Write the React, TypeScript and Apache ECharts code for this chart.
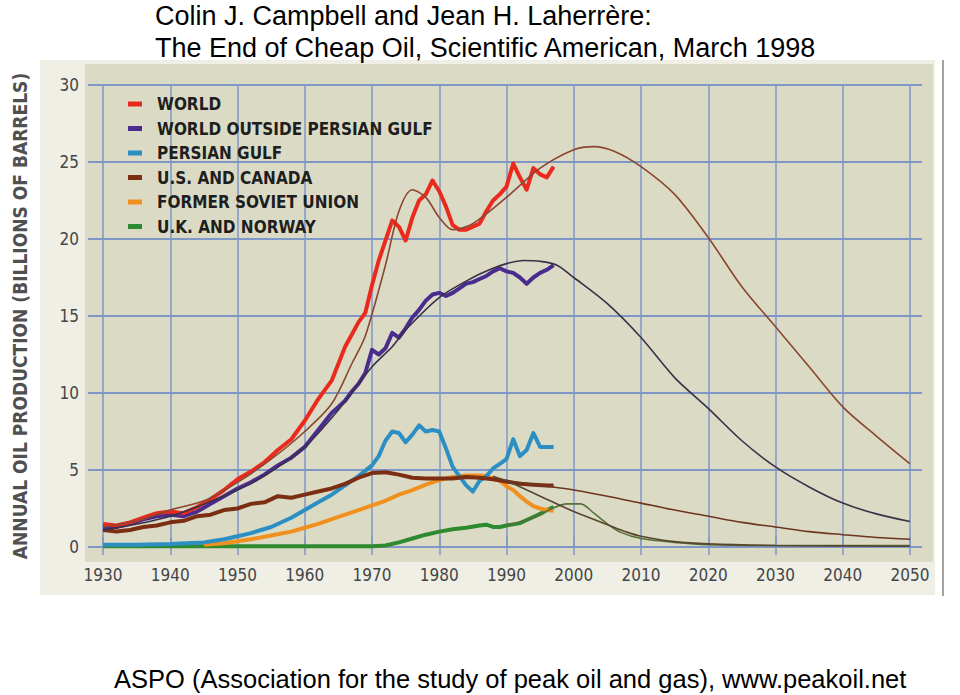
import React, { useEffect, useRef } from "react";
import * as echarts from "echarts";

// ---- Data (billions of barrels per year) ----
const worldYears = [1930, 1932, 1934, 1936, 1938, 1940, 1942, 1944, 1946, 1948, 1950, 1952, 1954, 1956, 1958, 1960, 1962, 1964, 1966, 1967, 1968, 1969, 1970, 1971, 1972, 1973, 1974, 1975, 1976, 1977, 1978, 1979, 1980, 1981, 1982, 1983, 1984, 1985, 1986, 1987, 1988, 1989, 1990, 1991, 1992, 1993, 1994, 1995, 1996, 1997];
const worldValues = [1.5, 1.4, 1.6, 1.9, 2.2, 2.3, 2.2, 2.6, 3.1, 3.7, 4.4, 4.9, 5.5, 6.3, 7.0, 8.2, 9.6, 10.8, 13.0, 13.8, 14.6, 15.2, 17.0, 18.6, 19.9, 21.2, 20.8, 19.9, 21.4, 22.5, 22.9, 23.8, 23.1, 22.1, 20.9, 20.6, 20.6, 20.8, 21.0, 21.8, 22.5, 22.9, 23.4, 24.9, 24.0, 23.2, 24.6, 24.2, 24.0, 24.7];

const outsideYears = [1930, 1932, 1934, 1936, 1938, 1940, 1942, 1944, 1946, 1948, 1950, 1952, 1954, 1956, 1958, 1960, 1962, 1964, 1965, 1966, 1967, 1968, 1969, 1970, 1971, 1972, 1973, 1974, 1975, 1976, 1977, 1978, 1979, 1980, 1981, 1982, 1983, 1984, 1985, 1986, 1987, 1988, 1989, 1990, 1991, 1992, 1993, 1994, 1995, 1996, 1997];
const outsideValues = [1.3, 1.3, 1.5, 1.8, 2.0, 2.1, 2.0, 2.3, 2.8, 3.3, 3.8, 4.2, 4.7, 5.3, 5.8, 6.5, 7.6, 8.7, 9.1, 9.5, 10.1, 10.6, 11.3, 12.8, 12.5, 12.9, 13.9, 13.6, 14.2, 14.9, 15.4, 16.0, 16.4, 16.5, 16.3, 16.5, 16.8, 17.1, 17.2, 17.4, 17.6, 17.9, 18.1, 17.9, 17.8, 17.5, 17.1, 17.5, 17.8, 18.0, 18.3];

const gulfYears = [1930, 1935, 1940, 1945, 1948, 1950, 1952, 1955, 1958, 1960, 1962, 1964, 1966, 1968, 1970, 1971, 1972, 1973, 1974, 1975, 1976, 1977, 1978, 1979, 1980, 1981, 1982, 1983, 1984, 1985, 1986, 1987, 1988, 1989, 1990, 1991, 1992, 1993, 1994, 1995, 1996, 1997];
const gulfValues = [0.15, 0.15, 0.2, 0.3, 0.5, 0.7, 0.9, 1.3, 1.9, 2.4, 2.9, 3.4, 4.0, 4.6, 5.3, 5.9, 6.9, 7.5, 7.4, 6.8, 7.3, 7.9, 7.5, 7.6, 7.5, 6.4, 5.2, 4.6, 4.0, 3.6, 4.3, 4.6, 5.1, 5.4, 5.7, 7.0, 5.9, 6.3, 7.4, 6.5, 6.5, 6.5];

const usYears = [1930, 1932, 1934, 1936, 1938, 1940, 1942, 1944, 1946, 1948, 1950, 1952, 1954, 1956, 1958, 1960, 1962, 1964, 1966, 1968, 1970, 1972, 1974, 1976, 1978, 1980, 1982, 1984, 1986, 1988, 1990, 1992, 1994, 1996, 1997];
const usValues = [1.1, 1.0, 1.1, 1.3, 1.4, 1.6, 1.7, 2.0, 2.1, 2.4, 2.5, 2.8, 2.9, 3.3, 3.2, 3.4, 3.6, 3.8, 4.1, 4.5, 4.8, 4.85, 4.7, 4.5, 4.45, 4.45, 4.45, 4.55, 4.5, 4.4, 4.25, 4.1, 4.05, 4.0, 4.0];

const fsuYears = [1945, 1948, 1950, 1952, 1955, 1958, 1960, 1962, 1965, 1968, 1970, 1972, 1974, 1976, 1978, 1980, 1982, 1984, 1986, 1987, 1988, 1989, 1990, 1991, 1992, 1993, 1994, 1995, 1996, 1997];
const fsuValues = [0.15, 0.25, 0.38, 0.5, 0.75, 1.0, 1.25, 1.5, 1.95, 2.4, 2.7, 3.0, 3.4, 3.7, 4.05, 4.35, 4.55, 4.65, 4.65, 4.6, 4.45, 4.3, 3.95, 3.7, 3.3, 2.95, 2.65, 2.5, 2.4, 2.35];

const ukYears = [1930, 1970, 1972, 1974, 1976, 1978, 1980, 1982, 1984, 1986, 1987, 1988, 1989, 1990, 1992, 1993, 1994, 1995, 1996, 1997];
const ukValues = [0.05, 0.05, 0.1, 0.3, 0.55, 0.8, 1.0, 1.15, 1.25, 1.4, 1.45, 1.3, 1.3, 1.4, 1.55, 1.75, 1.95, 2.15, 2.4, 2.6];

// ---- Fitted / forecast curves ----
const worldFitYears = [1930, 1935, 1940, 1945, 1950, 1955, 1960, 1964, 1967, 1969, 1972, 1974, 1976, 1978, 1980, 1982, 1985, 1990, 1995, 2000, 2003, 2006, 2010, 2015, 2020, 2025, 2030, 2035, 2040, 2045, 2050];
const worldFitValues = [1.3, 1.7, 2.4, 3.0, 4.2, 5.7, 7.5, 9.3, 11.9, 13.7, 18.3, 21.8, 23.2, 22.7, 21.4, 20.6, 21.0, 22.7, 24.6, 25.8, 26.0, 25.7, 24.7, 22.9, 20.1, 16.9, 14.3, 11.7, 9.1, 7.2, 5.4];

const outsideFitYears = [1930, 1940, 1950, 1955, 1960, 1965, 1970, 1973, 1975, 1980, 1985, 1988, 1990, 1992.5, 1995, 1997.5, 2000, 2005, 2010, 2015, 2020, 2025, 2030, 2035, 2040, 2045, 2050];
const outsideFitValues = [1.1, 2.0, 3.7, 4.9, 6.5, 8.9, 11.7, 13.0, 14.1, 16.2, 17.5, 18.1, 18.4, 18.6, 18.55, 18.3, 17.5, 15.8, 13.6, 11.0, 9.0, 6.9, 5.2, 3.9, 2.85, 2.15, 1.65];

const usFitYears = [1990, 1995, 2000, 2005, 2010, 2015, 2020, 2025, 2030, 2035, 2040, 2045, 2050];
const usFitValues = [4.3, 4.0, 3.7, 3.3, 2.85, 2.4, 2.0, 1.6, 1.3, 1.0, 0.8, 0.62, 0.5];

const fsuFitYears = [1988, 1990, 1995, 2000, 2005, 2008, 2010, 2015, 2020, 2030, 2050];
const fsuFitValues = [4.6, 4.3, 3.3, 2.3, 1.45, 0.95, 0.7, 0.35, 0.2, 0.1, 0.05];

const ukFitYears = [1990, 1994, 1997, 1999, 2001, 2003, 2005, 2007, 2010, 2015, 2020, 2030, 2050];
const ukFitValues = [1.4, 1.9, 2.55, 2.8, 2.8, 2.2, 1.5, 0.95, 0.55, 0.3, 0.15, 0.1, 0.1];

const legendNames = ["WORLD", "WORLD OUTSIDE PERSIAN GULF", "PERSIAN GULF", "U.S. AND CANADA", "FORMER SOVIET UNION", "U.K. AND NORWAY"];
const seriesColors = ["#ea2a1e", "#4a2b8e", "#2b8fc4", "#7b2e12", "#f0901f", "#2e8a30"];

const titleLines = ["Colin J. Campbell and Jean H. Laherrère:", "The End of Cheap Oil, Scientific American, March 1998"];
const footerText = "ASPO (Association for the study of peak oil and gas), www.peakoil.net";
const yAxisTitle = "ANNUAL OIL PRODUCTION (BILLIONS OF BARRELS)";

const zip = (xs: number[], ys: number[]) => xs.map((x, i) => [x, ys[i]]);

const GRID_COLOR = "#7f97c6";
const NARROW = "'Liberation Sans Narrow', 'DejaVu Sans Condensed', 'Liberation Sans', Arial, sans-serif";
const SANS = "'Liberation Sans', Arial, sans-serif";

export default function App() {
  const ref = useRef<HTMLDivElement>(null);
  useEffect(() => {
    if (!ref.current) return;
    const chart = echarts.init(ref.current, null, { renderer: "svg" });
    const actual = [
      zip(worldYears, worldValues),
      zip(outsideYears, outsideValues),
      zip(gulfYears, gulfValues),
      zip(usYears, usValues),
      zip(fsuYears, fsuValues),
      zip(ukYears, ukValues),
    ];
    const fits = [
      { data: zip(ukFitYears, ukFitValues), color: "#55703a" },
      { data: zip(fsuFitYears, fsuFitValues), color: "#5a4630" },
      { data: zip(usFitYears, usFitValues), color: "#6e3520" },
      { data: zip(outsideFitYears, outsideFitValues), color: "#3b3048" },
      { data: zip(worldFitYears, worldFitValues), color: "#8a4630" },
    ];
    const actualOrder = [5, 4, 2, 3, 1, 0];
    const series: any[] = [];
    actualOrder.forEach((i) => {
      series.push({
        name: legendNames[i],
        type: "line",
        data: actual[i],
        showSymbol: false,
        smooth: false,
        lineStyle: { color: seriesColors[i], width: 4, join: "round" },
        itemStyle: { color: seriesColors[i] },
        z: 3,
      });
    });
    fits.forEach((f, k) => {
      series.push({
        name: "fit" + k,
        type: "line",
        data: f.data,
        showSymbol: false,
        smooth: 0.3,
        lineStyle: { color: f.color, width: 1.6 },
        z: 4,
        silent: true,
      });
    });

    chart.setOption({
      animation: false,
      backgroundColor: "#ffffff",
      title: [
        {
          text: titleLines.join("\n"),
          left: 155,
          top: 0,
          padding: 0,
          textStyle: { fontFamily: SANS, fontSize: 27, fontWeight: "normal", color: "#000", lineHeight: 32 },
        },
        {
          text: footerText,
          left: 114,
          top: 666,
          padding: 0,
          textStyle: { fontFamily: SANS, fontSize: 25.5, fontWeight: "normal", color: "#000" },
        },
      ],
      graphic: [
        { type: "rect", z: -20, shape: { x: 40, y: 60, width: 895, height: 535 }, style: { fill: "#efefe6" } },
        { type: "rect", z: -19, shape: { x: 85, y: 64, width: 848, height: 498 }, style: { fill: "#dbdbc5" } },
        { type: "line", z: 5, shape: { x1: 943, y1: 60, x2: 943, y2: 596 }, style: { stroke: "#a3a3a3", lineWidth: 2 } },
      ],
      legend: {
        data: legendNames,
        orient: "vertical",
        left: 123,
        top: 89,
        icon: "rect",
        itemWidth: 14,
        itemHeight: 5,
        itemGap: 4.5,
        textStyle: { fontFamily: NARROW, fontWeight: "bold", fontSize: 17, color: "#1e1e1e", lineHeight: 20, padding: [0, 0, 0, 10] },
      },
      grid: { left: 103, right: 50, top: 85, bottom: 148 },
      xAxis: [
        {
          type: "value",
          min: 1930,
          max: 2050,
          interval: 10,
          axisLine: { show: false },
          axisTick: { show: true, length: 8, lineStyle: { color: GRID_COLOR, width: 1.5 } },
          axisLabel: { margin: 19, fontFamily: NARROW, fontSize: 17, color: "#454545", formatter: (v: number) => String(v) },
          splitLine: { show: true, lineStyle: { color: GRID_COLOR, width: 1.5 } },
        },
        {
          type: "value",
          position: "top",
          min: 1930,
          max: 2050,
          interval: 10,
          axisLine: { show: false },
          axisTick: { show: true, length: 10, lineStyle: { color: GRID_COLOR, width: 1.5 } },
          axisLabel: { show: false },
          splitLine: { show: false },
        },
      ],
      yAxis: [
        {
          type: "value",
          min: 0,
          max: 30,
          interval: 5,
          name: yAxisTitle,
          nameLocation: "middle",
          nameRotate: 90,
          nameGap: 74,
          nameTextStyle: { fontFamily: NARROW, fontSize: 19, fontWeight: "bold", color: "#505050" },
          axisLine: { show: false },
          axisTick: { show: true, length: 15, lineStyle: { color: GRID_COLOR, width: 2 } },
          axisLabel: { margin: 24, fontFamily: NARROW, fontSize: 17, color: "#454545" },
          splitLine: { show: true, lineStyle: { color: GRID_COLOR, width: 2 } },
        },
        {
          type: "value",
          position: "right",
          min: 0,
          max: 30,
          interval: 5,
          axisLine: { show: false },
          axisTick: { show: true, length: 12, lineStyle: { color: GRID_COLOR, width: 2 } },
          axisLabel: { show: false },
          splitLine: { show: false },
        },
      ],
      series,
    });
    return () => chart.dispose();
  }, []);
  return <div ref={ref} style={{ position: "fixed", left: 0, top: 0, width: 960, height: 695 }} />;
}
